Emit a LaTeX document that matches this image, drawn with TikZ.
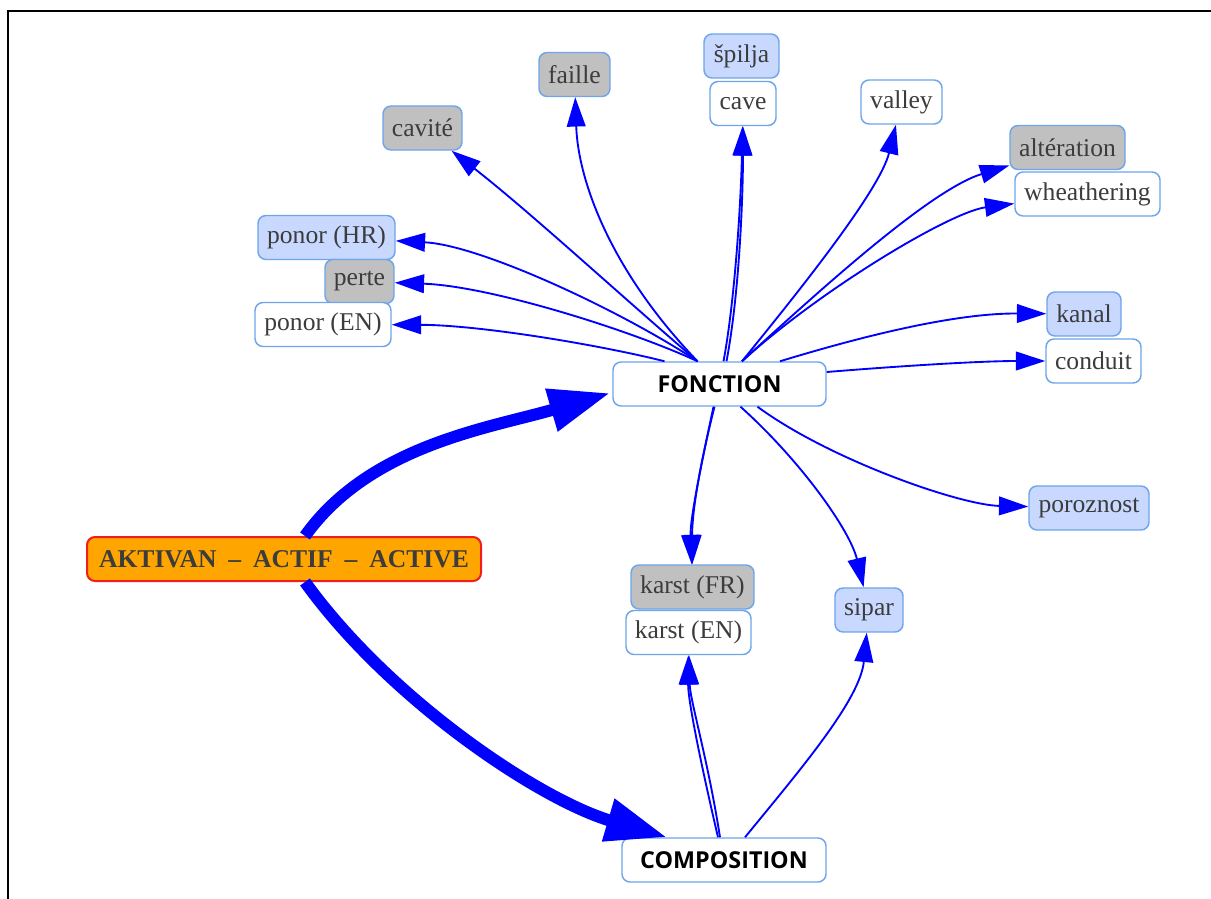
\documentclass[tikz,border=0pt]{standalone}
\usepackage{fontspec}
\setmainfont{Liberation Serif}
\newfontfamily\hdfont{Open Sans}
\usetikzlibrary{arrows.meta,calc}
\definecolor{edgeblue}{RGB}{0,0,255}
\definecolor{bordb}{RGB}{110,165,235}
\definecolor{fillb}{RGB}{200,216,255}
\definecolor{fillg}{RGB}{192,192,192}
\definecolor{txtgray}{RGB}{60,60,60}
\definecolor{orng}{RGB}{255,165,0}
\definecolor{redb}{RGB}{240,30,30}
\tikzset{
 term/.style={draw=bordb, line width=1.1pt, rounded corners=6pt, minimum height=33pt, inner sep=0pt, text=txtgray, font=\fontsize{19.2}{23}\selectfont},
 wbox/.style={term, fill=white},
 bbox/.style={term, fill=fillb},
 gbox/.style={term, fill=fillg},
 bw/.style={minimum width=#1*0.75pt},
 hub/.style={draw=bordb, line width=1.1pt, rounded corners=6pt, fill=white, minimum height=33pt, inner sep=0pt, font=\hdfont\bfseries\fontsize{17.5}{20}\selectfont, text=black},
 mainbox/.style={draw=redb, line width=1.5pt, rounded corners=6pt, fill=orng, minimum height=33pt, inner sep=0pt, font=\bfseries\fontsize{19.2}{23}\selectfont, text=txtgray},
 link/.style={draw=edgeblue, line width=1.4pt, -{Triangle[length=22pt,width=14pt]}},
 biglink/.style={draw=edgeblue, line width=9pt, -{Triangle[length=46pt,width=31pt]}},
}
\begin{document}
\begin{tikzpicture}[x=0.75pt,y=-0.75pt]
\useasboundingbox (0,0) rectangle (1211,899);
\fill[white] (0,0) rectangle (1211,899);
\draw[line width=1.5pt] (8,899) -- (8,11) -- (1211,11);

% nodes
\node[gbox,bw=71]  (fai) at (574.5,74.5) {faille};
\node[gbox,bw=79]  (cav) at (422.5,128) {cavité};
\node[bbox,bw=75]  (spi) at (741.5,56) {špilja};
\node[wbox,bw=66]  (cve) at (743,103.5) {cave};
\node[wbox,bw=81]  (val) at (901.5,102) {valley};
\node[gbox,bw=115] (alt) at (1067.5,147.5) {altération};
\node[wbox,bw=145] (whe) at (1087.5,194) {wheathering};
\node[bbox,bw=137] (phr) at (326.5,237.5) {ponor (HR)};
\node[gbox,bw=69]  (per) at (359.5,281.5) {perte};
\node[wbox,bw=136] (pen) at (323,324.5) {ponor (EN)};
\node[bbox,bw=74]  (kan) at (1084,314) {kanal};
\node[wbox,bw=95]  (con) at (1093.5,361) {conduit};
\node[hub,bw=213]  (fon) at (719.5,384) {FONCTION};
\node[bbox,bw=120] (por) at (1089,508) {poroznost};
\node[bbox,bw=68]  (sip) at (869,610) {sipar};
\node[gbox,bw=123] (kfr) at (692.5,587) {karst (FR)};
\node[wbox,bw=125] (ken) at (688.5,632.5) {karst (EN)};
\node[mainbox,bw=394] (act) at (284,559) {AKTIVAN\hspace{8.9pt}–\hspace{8.9pt}ACTIF\hspace{8.9pt}–\hspace{8.9pt}ACTIVE};
\node[hub,bw=204]  (cmp) at (724,860) {COMPOSITION};

% thick connectors
\draw[biglink] ($(act.north)+(21,0)$) .. controls (370,445) and (490,428) .. ($(fon.west)+(-2,9)$);
\draw[biglink] ($(act.south)+(21,0)$) .. controls (390,700) and (540,800) .. ($(cmp.north)+(-57,0)$);

% from FONCTION, upper left
\draw[link] ($(fon.north)+(-22,0)$) .. controls (620,295) and (530,212) .. (cav);
\draw[link] ($(fon.north)+(-22,0)$) .. controls (610,270) and (578,180) .. (fai);
\draw[link] ($(fon.north)+(-22,0)$) .. controls (620,310) and (480,245) .. (phr);
\draw[link] ($(fon.north)+(-22,0)$) .. controls (630,330) and (490,286) .. (per);
\draw[link] ($(fon.north)+(-55,0)$) .. controls (600,345) and (480,325) .. (pen);
% upward
\draw[link] ($(fon.north)+(4,0)$) .. controls (735,300) and (741,200) .. (cve);
\draw[link] ($(fon.north)+(7,0)$) .. controls (740,290) and (743,190) .. (cve);
\draw[link] ($(fon.north)+(22.5,0)$) .. controls (800,290) and (880,190) .. (val);
\draw[link] ($(fon.north)+(22.5,0)$) .. controls (820,290) and (930,190) .. (alt);
\draw[link] ($(fon.north)+(22.5,0)$) .. controls (820,290) and (950,212) .. (whe);
% right
\draw[link] ($(fon.north)+(60.5,0)$) .. controls (850,340) and (950,313) .. (kan);
\draw[link] ($(fon.east)+(0,-12)$) .. controls (900,366) and (980,361) .. (con);
% downward
\draw[link] ($(fon.south)+(38,0)$) .. controls (830,460) and (960,505) .. (por);
\draw[link] ($(fon.south)+(21,0)$) .. controls (800,460) and (850,530) .. (sip);
\draw[link] ($(fon.south)+(-6,0)$) .. controls (700,470) and (690,520) .. (kfr);
\draw[link] ($(fon.south)+(-5,0)$) .. controls (696,480) and (692,520) .. (kfr);
% from COMPOSITION
\draw[link] ($(cmp.north)+(-6,0)$) .. controls (700,760) and (688,700) .. (ken);
\draw[link] ($(cmp.north)+(-4,0)$) .. controls (708,760) and (690,700) .. (ken);
\draw[link] ($(cmp.north)+(21,0)$) .. controls (800,770) and (860,700) .. (sip);
\end{tikzpicture}
\end{document}
